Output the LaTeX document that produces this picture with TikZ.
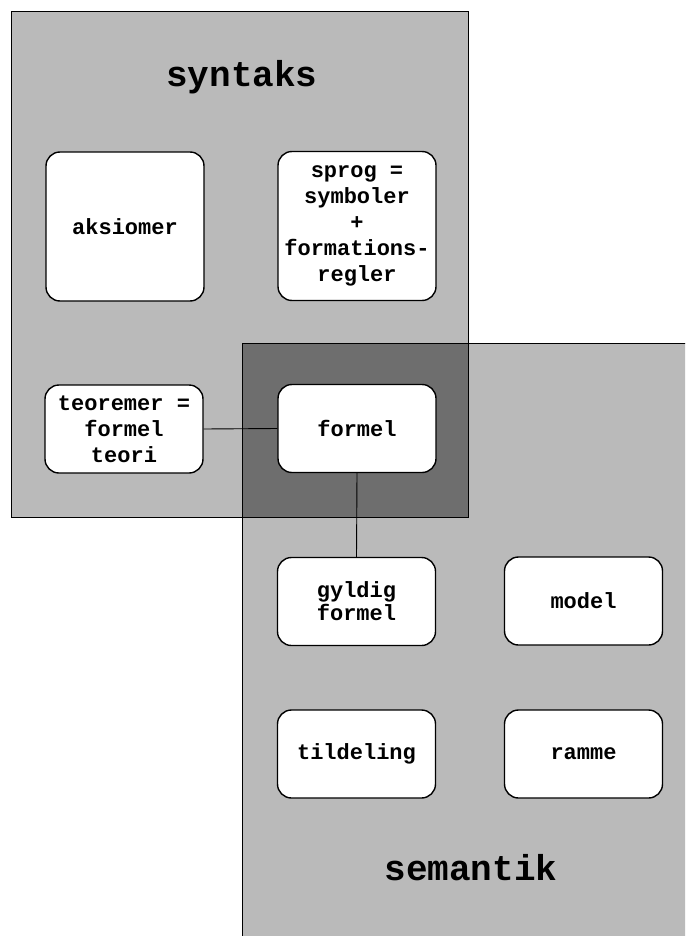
\documentclass[tikz,border=0pt]{standalone}
\usepackage{fontspec}
\setmonofont{Liberation Mono}
\begin{document}
\begin{tikzpicture}[x=1pt,y=-1pt,
  box/.style={draw=black,line width=1.4pt,fill=white,rounded corners=14pt,
    minimum width=158pt,minimum height=88pt,align=center,inner sep=2pt,
    font=\ttfamily\bfseries\fontsize{22}{26}\selectfont},
  bigbox/.style={minimum height=149pt},
  title/.style={font=\ttfamily\bfseries\fontsize{36}{40}\selectfont,anchor=base,inner sep=0pt},
  link/.style={draw=black,line width=0.9pt},
  area/.style={draw=black,line width=0.9pt}]
\useasboundingbox (0,0) rectangle (685,936);
\fill[white] (0,0) rectangle (685,936);
% regions
\begin{scope}
\clip (0,0) rectangle (685,936);
\fill[black!27] (11,11) rectangle (468,517);
\fill[black!27] (242,343) rectangle (700,950);
\fill[black!57] (242,343) rectangle (468,517);
\draw[area] (11,11) rectangle (468,517);
\draw[area] (242,343) rectangle (700,950);
\end{scope}
% titles
\node[title] (syn) at (242,87) {syntaks};
\node[title] (sem) at (471,880) {semantik};
% boxes
\node[box,bigbox] (aks) at (125,226.5) {aksiomer};
\node[box,bigbox] (spr) at (357,226) {sprog =\\symboler\\+\\formations-\\regler};
\node[box] (teo) at (124,429) {teoremer =\\formel\\teori};
\node[box] (form) at (357,428.5) {formel};
\node[box] (gyl) at (356.5,601.5) {gyldig\\[-3pt]formel};
\node[box] (mod) at (583.5,601) {model};
\node[box] (til) at (356.5,754) {tildeling};
\node[box] (ram) at (583.5,754) {ramme};
% connectors
\draw[link] (teo.east) -- (form.west);
\draw[link] (form.south) -- (gyl.north);
\end{tikzpicture}
\end{document}
